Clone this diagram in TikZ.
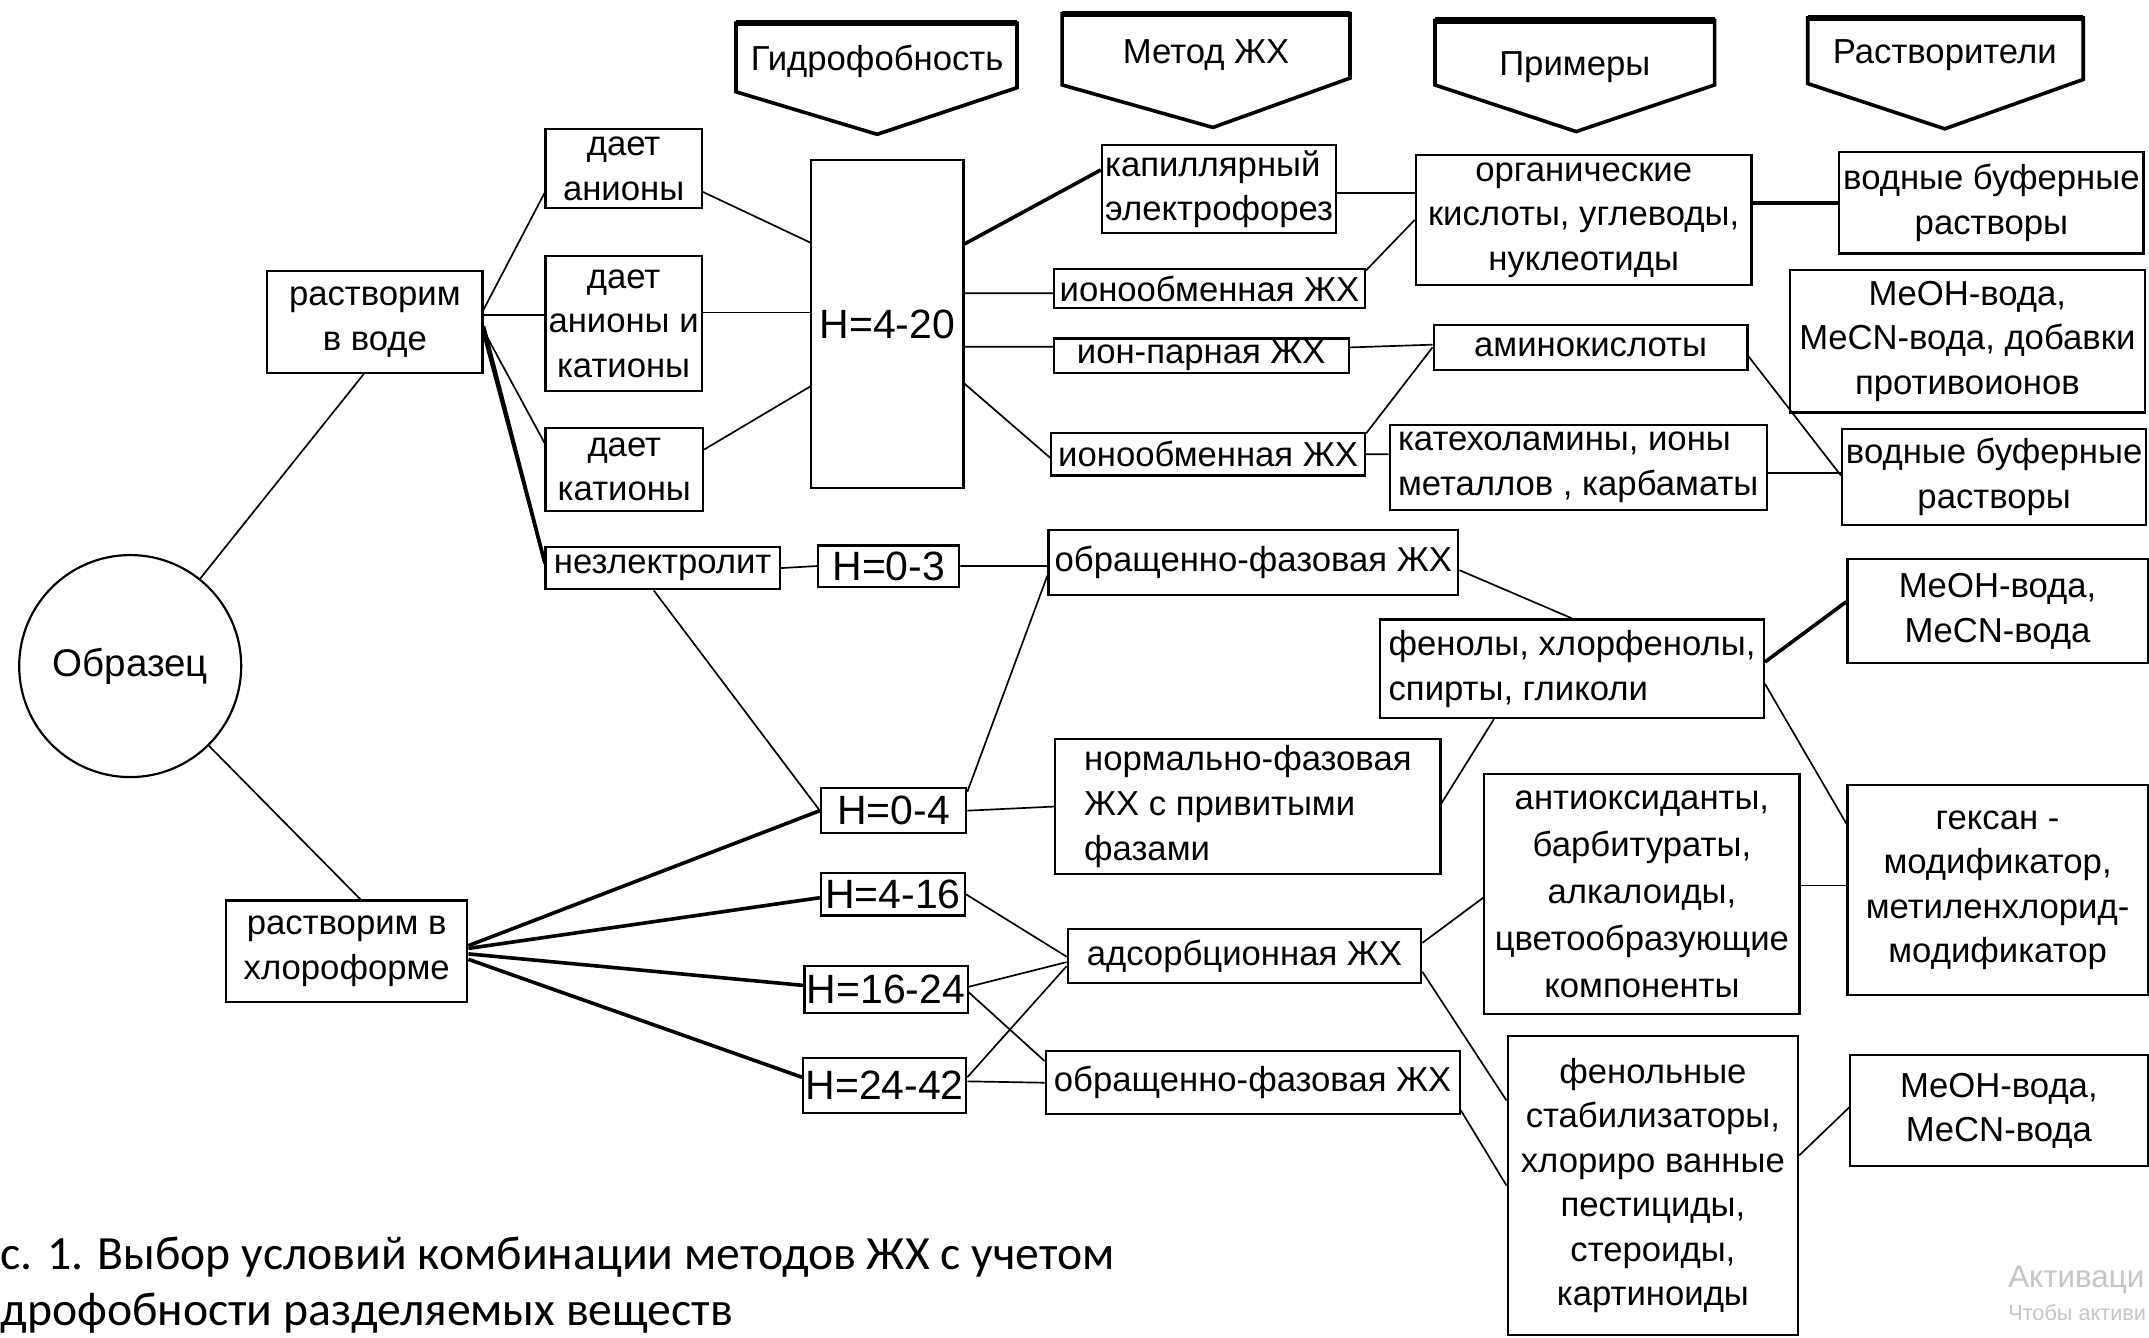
\documentclass[tikz,border=0pt]{standalone}
\usepackage{fontspec}
\setmainfont{Liberation Sans}
\newfontfamily\capfont{Carlito}
\usetikzlibrary{calc}

\tikzset{
  box/.style={draw, line width=0.9pt, inner sep=0pt, align=center, font=\fontsize{14.4}{18.5}\selectfont},
  hbox/.style={box, font=\fontsize{17}{20}\selectfont},
  hdr/.style={line width=1.5pt, line join=miter},
  hdrtop/.style={line width=2.6pt},
  htext/.style={inner sep=0pt, font=\fontsize{14.4}{18.5}\selectfont},
  link/.style={line width=0.7pt},
  tlink/.style={line width=1.5pt},
  wmark/.style={anchor=west, inner sep=0pt, text=gray!45},
}

\begin{document}
\begin{tikzpicture}[x=0.2mm,y=-0.2mm]
  \useasboundingbox (0,0) rectangle (1568,976);
  \fill[white] (0,0) rectangle (1568,976);

  % Column headers
  \draw[hdr] (537,67) -- (537,17) -- (742,17) -- (742,64) -- (640,98) -- cycle;
  \draw[hdrtop] (537,17) -- (742,17);
  \node[htext] (thyd) at (640,45) {Гидрофобность};
  \draw[hdr] (775,62) -- (775,10) -- (985,10) -- (985,57) -- (885,93) -- cycle;
  \draw[hdrtop] (775,10) -- (985,10);
  \node[htext] (tmet) at (880,40) {Метод ЖХ};
  \draw[hdr] (1047,62) -- (1047,15) -- (1251,15) -- (1251,62) -- (1150,96) -- cycle;
  \draw[hdrtop] (1047,15) -- (1251,15);
  \node[htext] (tprim) at (1149,49) {Примеры};
  \draw[hdr] (1319,61) -- (1319,13) -- (1520,13) -- (1520,58) -- (1419,94) -- cycle;
  \draw[hdrtop] (1319,13) -- (1520,13);
  \node[htext] (trast) at (1419,40) {Растворители};

  % Sample and solubility
  \node[draw, circle, line width=0.9pt, minimum size=32.4mm, inner sep=0pt, font=\fontsize{16}{19}\selectfont] (obr) at (95,486) {Образец};
  \node[box, minimum width=31.4mm, minimum height=14.8mm] (voda) at (273.5,235) {растворим\\в воде};
  \node[box, minimum width=35.2mm, minimum height=14.8mm] (chl) at (253,694) {растворим в\\хлороформе};

  % Ions
  \node[box, minimum width=22.8mm, minimum height=11.6mm] (an) at (455,123) {дает\\анионы};
  \node[box, minimum width=22.8mm, minimum height=19.6mm] (ank) at (455,236) {дает\\анионы и\\катионы};
  \node[box, minimum width=23mm, minimum height=12.2mm] (kat) at (455.5,342.5) {дает\\катионы};
  \node[box, minimum width=34.2mm, minimum height=6.2mm] (neel) at (483.5,414.5) {незлектролит};

  % Hydrophobicity
  \node[hbox, minimum width=22.2mm, minimum height=47.8mm] (h420) at (647.5,236.5) {H=4-20};
  \node[hbox, minimum width=20.6mm, minimum height=6mm] (h03) at (648.5,413) {H=0-3};
  \node[hbox, minimum width=21.2mm, minimum height=6.6mm] (h04) at (652,591.5) {H=0-4};
  \node[hbox, minimum width=21mm, minimum height=6.2mm] (h416) at (651.5,652.5) {H=4-16};
  \node[hbox, minimum width=23.8mm, minimum height=6.8mm] (h1624) at (646.5,722) {H=16-24};
  \node[hbox, minimum width=23.8mm, minimum height=8mm] (h2442) at (645.5,792) {H=24-42};

  % Methods
  \node[box, minimum width=34.2mm, minimum height=12.8mm, align=left] (kap) at (889.5,138) {капиллярный\\электрофорез};
  \node[box, minimum width=45.4mm, minimum height=5.8mm] (io1) at (882.5,210.5) {ионообменная ЖХ};
  \node[box, minimum width=43mm, minimum height=5mm] (ip) at (876.5,259.5) {ион-парная ЖХ};
  \node[box, minimum width=45.8mm, minimum height=6.2mm] (io2) at (881.5,331.5) {ионообменная ЖХ};
  \node[box, minimum width=59.8mm, minimum height=9.4mm] (ob1) at (914.5,410.5) {обращенно-фазовая ЖХ};
  \node[box, minimum width=56.2mm, minimum height=19.8mm, align=left] (norm) at (910.5,588.5) {нормально-фазовая\\ЖХ с привитыми\\фазами};
  \node[box, minimum width=51.6mm, minimum height=7.8mm] (ads) at (908,697.5) {адсорбционная ЖХ};
  \node[box, minimum width=60.4mm, minimum height=9.2mm] (ob2) at (914,790) {обращенно-фазовая ЖХ};

  % Examples
  \node[box, minimum width=49mm, minimum height=19mm] (org) at (1155.5,160.5) {органические\\кислоты, углеводы,\\нуклеотиды};
  \node[box, minimum width=45.8mm, minimum height=6.6mm] (amino) at (1160.5,253.5) {аминокислоты};
  \node[box, minimum width=55mm, minimum height=12.4mm, align=left] (kath) at (1151.5,341) {катехоламины, ионы\\металлов , карбаматы};
  \node[box, minimum width=56mm, minimum height=14.4mm, align=left] (fen) at (1147,488) {фенолы, хлорфенолы,\\спирты, гликоли};
  \node[box, minimum width=46mm, minimum height=35mm, font=\fontsize{14.4}{19.5}\selectfont] (antiox) at (1198,652.5) {антиоксиданты,\\барбитураты,\\алкалоиды,\\цветообразующие\\компоненты};
  \node[box, minimum width=42.4mm, minimum height=43.6mm] (fenst) at (1206,865) {фенольные\\стабилизаторы,\\хлориро ванные\\пестициды,\\стероиды,\\картиноиды};

  % Solvents
  \node[box, minimum width=44.4mm, minimum height=14.8mm] (vod1) at (1453,148) {водные буферные\\растворы};
  \node[box, minimum width=51.8mm, minimum height=20.8mm] (meoh3) at (1435.5,249) {MeOH-вода,\\MeCN-вода, добавки\\противоионов};
  \node[box, minimum width=44.4mm, minimum height=14mm] (vod2) at (1455,348) {водные буферные\\растворы};
  \node[box, minimum width=43.8mm, minimum height=15.2mm] (meoh1) at (1457.5,446) {MeOH-вода,\\MeCN-вода};
  \node[box, minimum width=43.8mm, minimum height=30.6mm] (hex) at (1457.5,649.5) {гексан -\\модификатор,\\метиленхлорид-\\модификатор};
  \node[box, minimum width=43.4mm, minimum height=16.2mm] (meoh2) at (1458.5,810.5) {MeOH-вода,\\MeCN-вода};

  % Links: sample side
  \draw[link] (obr) -- ($(voda.south)+(-8,0)$);
  \draw[link] (obr) -- ($(chl.north)+(10,0)$);
  \draw[link] ($(voda.east)+(0,-9)$) -- ($(an.west)+(0,18)$);
  \draw[link] ($(voda.east)+(0,-5)$) -- ($(ank.west)+(0,-6)$);
  \draw[link] ($(voda.east)+(0,6)$) -- ($(kat.west)+(0,-19.5)$);
  \draw[tlink] ($(voda.east)+(0,3)$) -- ($(neel.west)+(0,-5)$);
  \draw[link] ($(voda.east)+(0,10)$) -- ($(neel.west)+(0,-3)$);

  % Links: ions to hydrophobicity
  \draw[link] ($(an.east)+(0,17)$) -- ($(h420.west)+(0,-59.5)$);
  \draw[link] ($(ank.east)+(0,-8)$) -- ($(h420.west)+(0,-8.5)$);
  \draw[link] ($(kat.east)+(0,-14.5)$) -- ($(h420.west)+(0,45.5)$);
  \draw[link] (neel.east) -- (h03.west);
  \draw[link] ($(neel.south)+(-6.5,0)$) -- (h04.west);
  \draw[tlink] ($(chl.east)+(0,-4)$) -- (h04.west);
  \draw[tlink] ($(chl.east)+(0,-2)$) -- ($(h416.west)+(0,2.5)$);
  \draw[tlink] ($(chl.east)+(0,2)$) -- ($(h1624.west)+(0,-3)$);
  \draw[tlink] ($(chl.east)+(0,6)$) -- ($(h2442.west)+(0,-6)$);

  % Links: hydrophobicity to methods
  \draw[tlink] ($(h420.east)+(0,-58.5)$) -- ($(kap.west)+(0,-14)$);
  \draw[link] ($(h420.east)+(0,-22.5)$) -- ($(io1.west)+(0,3.5)$);
  \draw[link] ($(h420.east)+(0,16.5)$) -- ($(ip.west)+(0,-6.5)$);
  \draw[link] ($(h420.east)+(0,43.5)$) -- ($(io2.west)+(0,2.5)$);
  \draw[link] (h03.east) -- ($(ob1.west)+(0,2.5)$);
  \draw[link] ($(h04.north east)+(0,3.5)$) -- ($(ob1.west)+(0,9.5)$);
  \draw[link] (h04.east) -- (norm.west);
  \draw[link] (h416.east) -- ($(ads.west)+(0,0.5)$);
  \draw[link] ($(h1624.east)+(0,-2)$) -- ($(ads.west)+(0,4.5)$);
  \draw[link] ($(h1624.east)+(0,2)$) -- ($(ob2.north west)+(0,8)$);
  \draw[link] ($(h2442.east)+(0,-6)$) -- ($(ads.west)+(0,7.5)$);
  \draw[link] ($(h2442.east)+(0,-3)$) -- (ob2.west);

  % Links: methods to examples
  \draw[link] ($(kap.east)+(0,3)$) -- ($(org.west)+(0,-19.5)$);
  \draw[link] ($(io1.north east)+(0,2)$) -- (org.west);
  \draw[link] ($(ip.east)+(0,-6)$) -- ($(amino.west)+(0,-2)$);
  \draw[link] ($(io2.north east)+(0,1)$) -- (amino.west);
  \draw[link] (io2.east) -- ($(kath.west)+(0,-9.5)$);
  \draw[link] ($(ob1.east)+(0,5.5)$) -- (fen.north);
  \draw[link] ($(norm.east)+(0,-2.5)$) -- ($(fen.south)+(-57,0)$);
  \draw[link] ($(ads.east)+(0,-9.5)$) -- ($(antiox.west)+(0,2.5)$);
  \draw[link] ($(ads.east)+(0,11.5)$) -- ($(fenst.west)+(0,-62)$);
  \draw[link] ($(ob2.east)+(0,20)$) -- (fenst.west);

  % Links: examples to solvents
  \draw[tlink] ($(org.east)+(0,-12.5)$) -- (vod1.west);
  \draw[link] ($(amino.east)+(0,6.5)$) -- ($(vod2.west)+(0,-1)$);
  \draw[link] ($(kath.east)+(0,4)$) -- ($(vod2.west)+(0,-3)$);
  \draw[tlink] ($(fen.east)+(0,-5)$) -- ($(meoh1.west)+(0,-7)$);
  \draw[link] ($(fen.east)+(0,11)$) -- ($(hex.west)+(0,-48.5)$);
  \draw[link] ($(antiox.east)+(0,-6.5)$) -- ($(hex.west)+(0,-3.5)$);
  \draw[link] ($(fenst.east)+(0,-22)$) -- ($(meoh2.west)+(0,-2.5)$);

  % Caption and watermark
  \node[anchor=west, inner sep=0pt, font=\capfont\fontsize{19.8}{23}\selectfont] (cap1) at (0,917) {с. 1. Выбор условий комбинации методов ЖХ с учетом};
  \node[anchor=west, inner sep=0pt, font=\capfont\fontsize{19.8}{23}\selectfont] (cap2) at (0,958) {дрофобности разделяемых веществ};
  \node[wmark, font=\fontsize{13}{15}\selectfont] (wm1) at (1465,934) {Активаци};
  \node[wmark, font=\fontsize{9}{11}\selectfont] (wm2) at (1465,958) {Чтобы активи};
\end{tikzpicture}
\end{document}
